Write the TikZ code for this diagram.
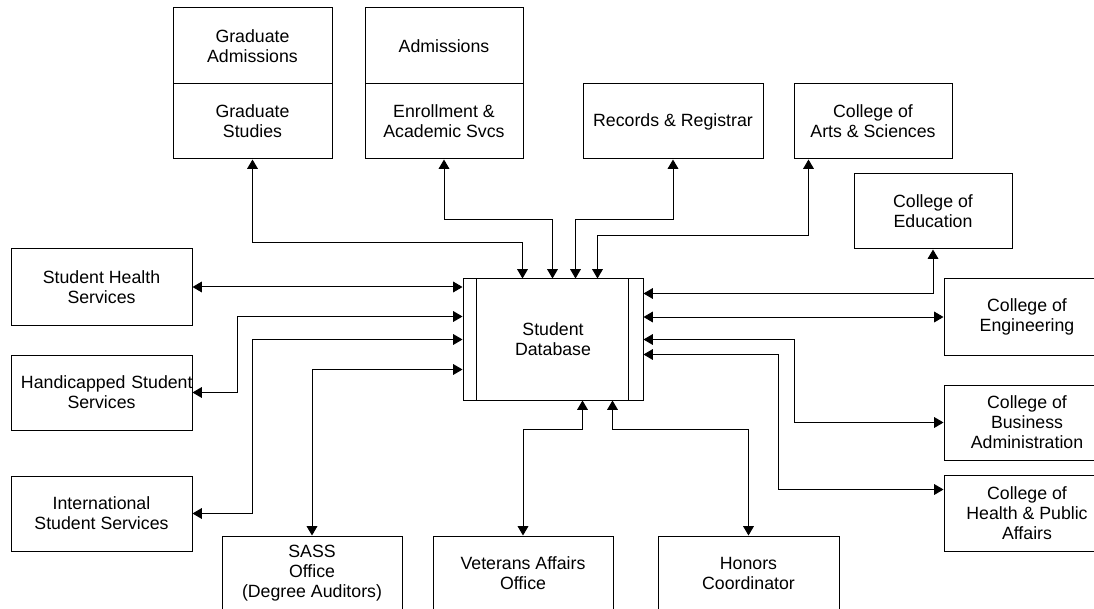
\documentclass[tikz,border=0pt]{standalone}
\usepackage{fontspec}
\setmainfont{Liberation Sans}
\usetikzlibrary{arrows.meta,calc}
\tikzset{
  box/.style={draw, line width=0.75pt, inner sep=0pt, align=center,
    font=\fontsize{13.3}{15}\selectfont},
  arr/.style={line width=0.75pt, {Triangle[length=7pt,width=8pt]}-{Triangle[length=7pt,width=8pt]}},
  plain/.style={line width=0.75pt}
}
\begin{document}
\begin{tikzpicture}[x=0.75pt,y=-0.75pt]
\useasboundingbox (0,0) rectangle (1094,609);
\clip (0,0) rectangle (1094,609);
% top boxes
\node[box, minimum width=159*0.75pt, minimum height=76*0.75pt] (gradA) at (252.5,46) {Graduate\\Admissions};
\node[box, minimum width=159*0.75pt, minimum height=75*0.75pt] (gradS) at (252.5,121.5) {Graduate\\Studies};
\node[box, minimum width=158*0.75pt, minimum height=76*0.75pt] (adm) at (444,46) {Admissions};
\node[box, minimum width=158*0.75pt, minimum height=75*0.75pt] (enr) at (444,121.5) {Enrollment \&\\Academic Svcs};
\node[box, minimum width=180*0.75pt, minimum height=75*0.75pt] (rec) at (673,121.5) {Records \& Registrar};
\node[box, minimum width=158*0.75pt, minimum height=75*0.75pt] (arts) at (873,121.5) {College of\\Arts \& Sciences};
\node[box, minimum width=158*0.75pt, minimum height=75*0.75pt] (edu) at (933,211.5) {College of\\Education};
% database
\node[box, minimum width=180*0.75pt, minimum height=121*0.75pt] (db) at (553,339.5) {Student\\Database};
\draw[plain] ($(db.north west)+(14,0)$) -- ($(db.south west)+(14,0)$);
\draw[plain] ($(db.north east)+(-15,0)$) -- ($(db.south east)+(-15,0)$);
% left boxes
\node[box, minimum width=181*0.75pt, minimum height=76*0.75pt] (health) at (101.5,287) {Student Health\\Services};
\node[box, minimum width=181*0.75pt, minimum height=75*0.75pt, text width=161*0.75pt] (handi) at (101.5,392.5) {\mbox{Handicapped Student}\\Services};
\node[box, minimum width=181*0.75pt, minimum height=75*0.75pt] (intl) at (101.5,513.5) {International\\Student Services};
% bottom boxes
\node[box, minimum width=180*0.75pt, minimum height=75*0.75pt] (sass) at (312,573.5) {SASS\\Office\\(Degree Auditors)};
\node[box, minimum width=180*0.75pt, minimum height=75*0.75pt] (vet) at (523,573.5) {Veterans Affairs\\Office};
\node[box, minimum width=181*0.75pt, minimum height=75*0.75pt] (hon) at (748.5,573.5) {Honors\\Coordinator};
% right boxes
\node[box, minimum width=166*0.75pt, minimum height=76*0.75pt] (eng) at (1027,317) {College of\\Engineering};
\node[box, minimum width=166*0.75pt, minimum height=75*0.75pt] (bus) at (1027,422.5) {College of\\Business\\Administration};
\node[box, minimum width=166*0.75pt, minimum height=76*0.75pt] (hpa) at (1027,513) {College of\\Health \& Public\\Affairs};
% connectors top
\draw[arr] (gradS.south) -- ++(0,83) -| ($(db.north west)+(60,0)$);
\draw[arr] (enr.south) -- ++(0,60) -| ($(db.north west)+(90,0)$);
\draw[arr] (rec.south) -- ++(0,60) -| ($(db.north west)+(113,0)$);
\draw[arr] ($(arts.south west)+(15,0)$) -- ++(0,76) -| ($(db.north west)+(135,0)$);
% right
\draw[arr] (edu.south) |- ($(db.north east)+(0,15)$);
\draw[arr] (eng.west) -- (eng.west -| db.east);
\draw[arr] ($(db.north east)+(0,61)$) -- ++(151,0) |- (bus.west);
\draw[arr] ($(db.north east)+(0,76)$) -- ++(135,0) |- ($(hpa.north west)+(0,15)$);
% left
\draw[arr] (health.east) -- (health.east -| db.west);
\draw[arr] (handi.east) -- ++(45,0) |- ($(db.north west)+(0,38)$);
\draw[arr] (intl.east) -- ++(60,0) |- ($(db.north west)+(0,61)$);
% bottom
\draw[arr] (sass.north) |- ($(db.north west)+(0,91)$);
\draw[arr] (vet.north) -- ++(0,-106) -| ($(db.south west)+(120,0)$);
\draw[arr] (hon.north) -- ++(0,-106) -| ($(db.south west)+(150,0)$);
\end{tikzpicture}
\end{document}
